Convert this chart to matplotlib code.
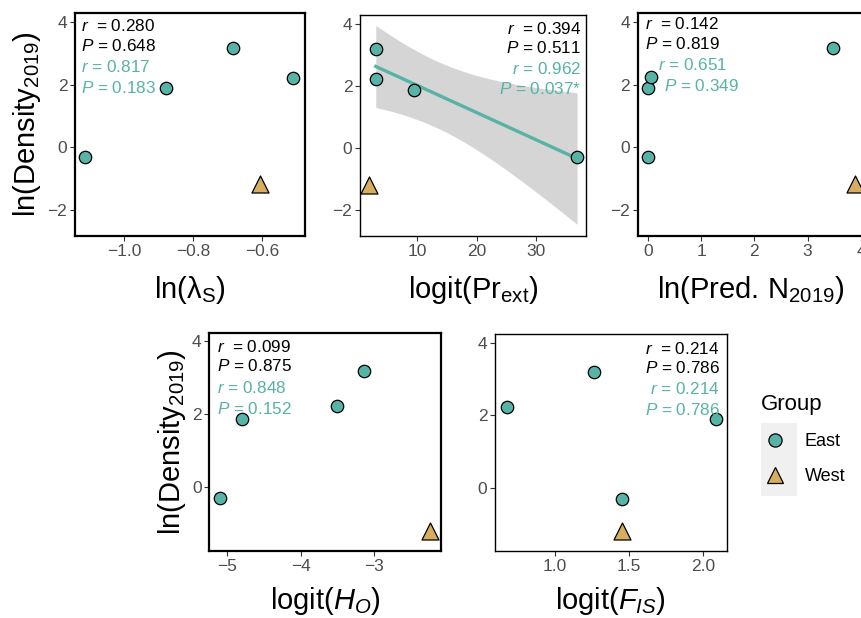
import numpy as np
import matplotlib
matplotlib.use("Agg")
import matplotlib.pyplot as plt
from matplotlib.lines import Line2D
from matplotlib.patches import Rectangle

plt.rcParams["font.family"] = ["Liberation Sans", "DejaVu Sans"]
plt.rcParams["mathtext.fontset"] = "custom"
plt.rcParams["mathtext.rm"] = "Liberation Sans"
plt.rcParams["mathtext.it"] = "Liberation Sans:italic"

TEAL = "#57B3A6"
GOLD = "#D7AE5F"

# ln(Density 2019) for the four East populations and the West one
dens_east = [-0.30, 1.89, 3.18, 2.23]
dens_west = [-1.18]

# predictors (same population order)
ln_lambda_east = [-1.115, -0.88, -0.684, -0.51]
ln_lambda_west = [-0.606]
pr_ext_east = [36.9, 9.44, 3.03, 3.0]
pr_ext_west = [1.9]
pred_n_east = [0.0, 0.0, 3.48, 0.06]
pred_n_west = [3.89]
h_o_east = [-5.10, -4.80, -3.14, -3.50]
h_o_west = [-2.23]
f_is_east = [1.45, 2.09, 1.266, 0.674]
f_is_west = [1.45]

stats_all = [("0.280", "0.648"), ("0.394", "0.511"), ("0.142", "0.819"),
             ("0.099", "0.875"), ("0.214", "0.786")]
stats_east = [("0.817", "0.183"), ("0.962", "0.037*"), ("0.651", "0.349"),
              ("0.848", "0.152"), ("0.214", "0.786")]

xlabels = [r"ln(λ$_\mathrm{S}$)", r"logit(Pr$_\mathrm{ext}$)",
           r"ln(Pred. N$_\mathrm{2019}$)", r"logit($H_O$)", r"logit($F_{IS}$)"]
ylabel = r"ln(Density$_\mathrm{2019}$)"

fig = plt.figure(figsize=(8.62, 6.18), dpi=100)

positions = [
    [0.0870, 0.6181, 0.2668, 0.3608],
    [0.4176, 0.6181, 0.2622, 0.3576],
    [0.7398, 0.6181, 0.2633, 0.3613],
    [0.2428, 0.1084, 0.2684, 0.3532],
    [0.5742, 0.1084, 0.2688, 0.3511],
]
xlims = [(-1.144, -0.475), (0.34, 38.4), (-0.19, 4.07), (-5.245, -2.09), (0.595, 2.16)]
ylims = [(-2.83, 4.29)] * 3 + [(-1.74, 4.24)] * 2
xticks = [[-1.0, -0.8, -0.6], [10, 20, 30], [0, 1, 2, 3, 4], [-5, -4, -3], [1.0, 1.5, 2.0]]
xtick_fmt = ["{:.1f}", "{:.0f}", "{:.0f}", "{:.0f}", "{:.1f}"]
yticks = [[-2, 0, 2, 4]] * 3 + [[0, 2, 4]] * 2
spine_w = [1.6, 1.0, 1.6, 1.6, 1.0]
xlabel_pad = [11, 11, 11, 8.5, 8.5]

east_x = [ln_lambda_east, pr_ext_east, pred_n_east, h_o_east, f_is_east]
west_x = [ln_lambda_west, pr_ext_west, pred_n_west, h_o_west, f_is_west]

# text placement: (anchor side, [(dx, dy) px for each of the four lines])
text_pos = [
    ("left", [(6, -13), (6, -33), (6, -54), (6, -75)]),
    ("right", [(-5, -14), (-5, -33), (-5, -54), (-5, -74)]),
    ("left", [(7, -11), (7, -31), (20, -52), (26, -73)]),
    ("left", [(8, -14), (8, -33), (8, -55), (8, -76)]),
    ("right", [(-7, -15), (-7, -34), (-7, -55), (-7, -76)]),
]

for i in range(5):
    ax = fig.add_axes(positions[i])
    ax.set_xlim(xlims[i])
    ax.set_ylim(ylims[i])

    if i == 1:
        x = np.array(east_x[i])
        y = np.array(dens_east)
        b, a = np.polyfit(x, y, 1)
        xs = np.linspace(x.min(), x.max(), 100)
        fit = a + b * xs
        n = len(x)
        s = np.sqrt(np.sum((y - (a + b * x)) ** 2) / (n - 2))
        se = s * np.sqrt(1 / n + (xs - x.mean()) ** 2 / np.sum((x - x.mean()) ** 2))
        t = 4.303  # t(0.975, df=2)
        ax.fill_between(xs, fit - t * se, fit + t * se, color="#D5D5D5", lw=0, zorder=1)
        ax.plot(xs, fit, color=TEAL, lw=2.4, zorder=2)

    ax.scatter(east_x[i], dens_east, s=80, marker="o", facecolor=TEAL,
               edgecolor="black", linewidth=0.9, zorder=3, clip_on=False)
    ax.scatter(west_x[i], dens_west, s=150, marker="^", facecolor=GOLD,
               edgecolor="black", linewidth=0.9, zorder=3, clip_on=False)

    ax.set_xticks(xticks[i])
    ax.set_xticklabels([xtick_fmt[i].format(v).replace("-", "\u2212") for v in xticks[i]])
    ax.set_yticks(yticks[i])
    ax.set_yticklabels([str(v).replace("-", "\u2212") for v in yticks[i]])
    ax.tick_params(direction="out", length=3.5, width=0.8, color="#333333",
                   labelsize=12.5, labelcolor="#4D4D4D", pad=2)
    for sp in ax.spines.values():
        sp.set_linewidth(spine_w[i])
        sp.set_color("black")

    ax.set_xlabel(xlabels[i], fontsize=21, labelpad=xlabel_pad[i])
    if i in (0, 3):
        ax.set_ylabel(ylabel, fontsize=21, labelpad=3)

    side, offs = text_pos[i]
    corner = (0, 1) if side == "left" else (1, 1)
    lines = [(r"$r$  = " + stats_all[i][0], "black"),
             (r"$P$ = " + stats_all[i][1], "black"),
             (r"$r$ = " + stats_east[i][0], TEAL),
             (r"$P$ = " + stats_east[i][1], TEAL)]
    for (txt, col), off in zip(lines, offs):
        ax.annotate(txt, xy=corner, xycoords="axes fraction", xytext=off,
                    textcoords="offset pixels", ha=side, va="center",
                    fontsize=12.3, color=col, zorder=4)

# legend
handles = [
    Line2D([], [], ls="none", marker="o", markersize=9.5, markerfacecolor=TEAL,
           markeredgecolor="black", markeredgewidth=0.9),
    Line2D([], [], ls="none", marker="^", markersize=12, markerfacecolor=GOLD,
           markeredgecolor="black", markeredgewidth=0.9),
]
fig.patches.append(Rectangle((761 / 862, 1 - 496 / 618), 36 / 862, 73 / 618,
                             transform=fig.transFigure, facecolor="#F0F0F0",
                             edgecolor="none", zorder=0))
leg = fig.legend(handles, ["East", "West"], title="Group", loc="upper left",
                 bbox_to_anchor=(745 / 862, 1 - 378 / 618), frameon=False,
                 fontsize=13, title_fontsize=16, labelspacing=1.0,
                 handletextpad=0.9, handlelength=1.5)
leg._legend_box.align = "left"

fig.savefig("out.png", dpi=100)
